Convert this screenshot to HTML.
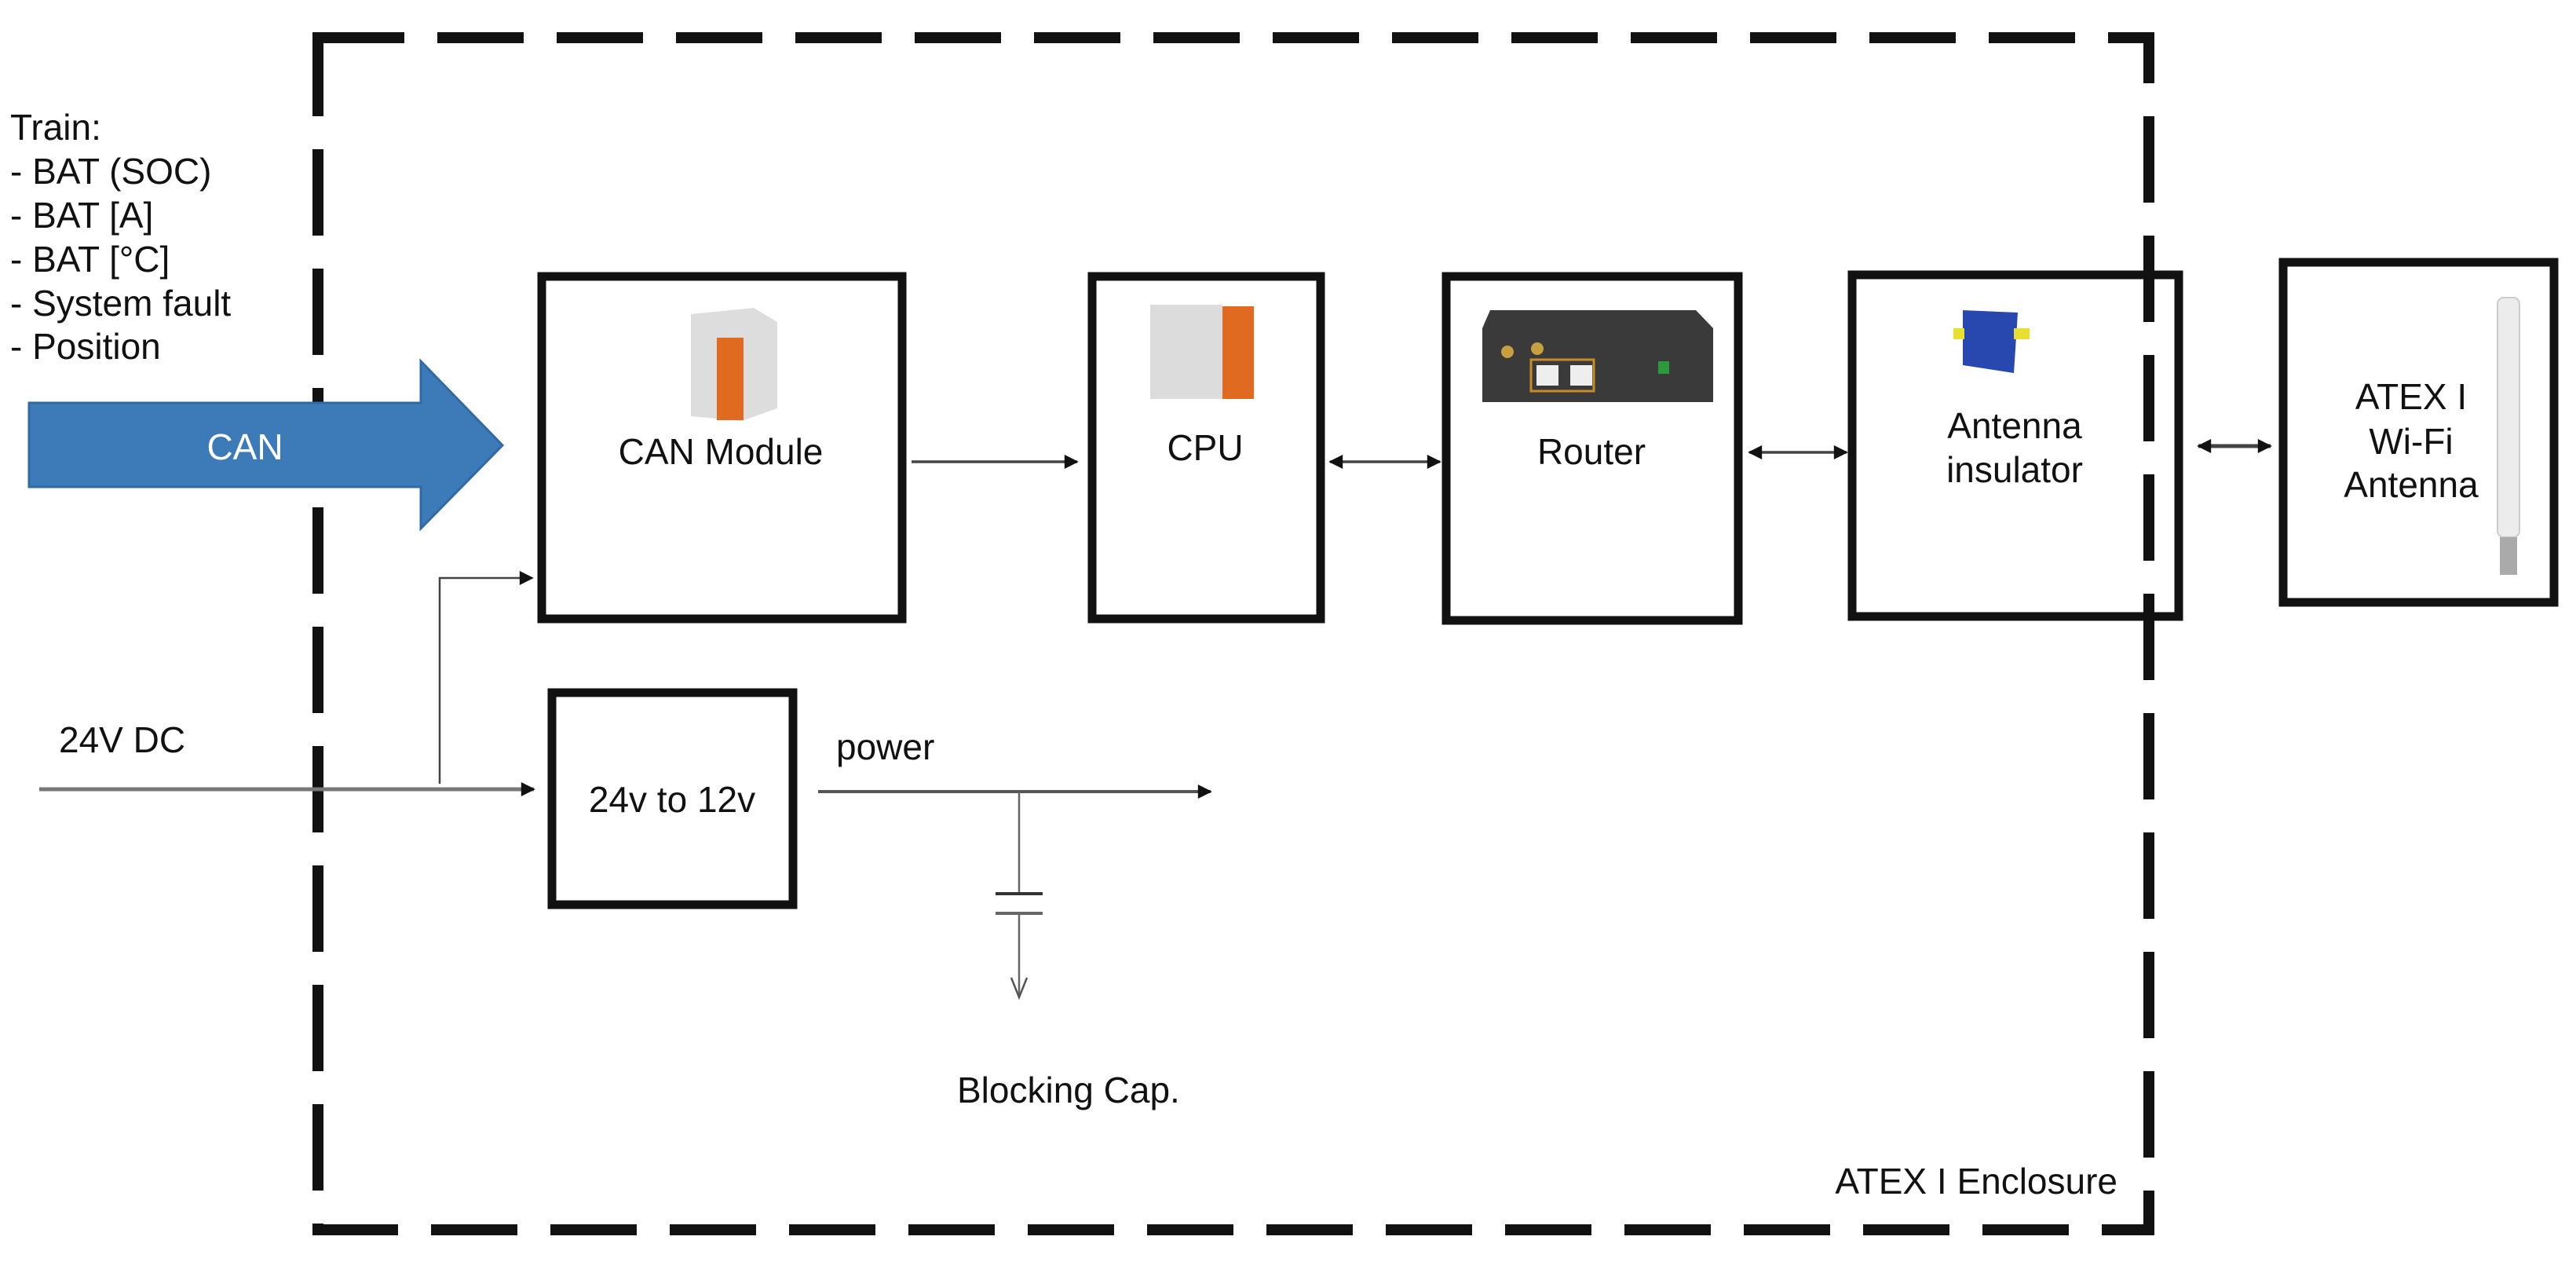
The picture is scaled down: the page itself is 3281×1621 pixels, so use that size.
<!DOCTYPE html>
<html><head><meta charset="utf-8"><style>
html,body{margin:0;padding:0;background:#fff;}
svg{display:block;}
text{font-family:"Liberation Sans",Arial,sans-serif;fill:#111;}
</style></head><body>
<svg width="3281" height="1621" viewBox="0 0 3281 1621" xmlns="http://www.w3.org/2000/svg">
<defs>
<marker id="ah" viewBox="0 0 10 10" refX="9" refY="5" markerWidth="20" markerHeight="18" orient="auto-start-reverse" markerUnits="userSpaceOnUse"><path d="M0,0 L10,5 L0,10 z" fill="#111"/></marker>
</defs>
<!-- enclosure -->
<path d="M405,48 H2737 V1566 H405 Z" fill="none" stroke="#111" stroke-width="14" stroke-dasharray="110 42"/>

<!-- left text -->
<g font-size="46">
<text x="13" y="178">Train:</text>
<text x="13" y="234">- BAT (SOC)</text>
<text x="13" y="290">- BAT [A]</text>
<text x="13" y="346">- BAT [°C]</text>
<text x="13" y="402">- System fault</text>
<text x="13" y="457">- Position</text>
<text x="75" y="958">24V DC</text>
<text x="1065" y="967">power</text>
<text x="1219" y="1404">Blocking Cap.</text>
<text x="2697" y="1520" text-anchor="end">ATEX I Enclosure</text>
</g>

<!-- CAN arrow -->
<path d="M37,513 H536 V460 L640,567 L536,673 V620 H37 Z" fill="#3d7ab8" stroke="#2f6aa3" stroke-width="3"/>
<text x="312" y="585" font-size="46" text-anchor="middle" style="fill:#fff">CAN</text>

<!-- boxes -->
<g fill="none" stroke="#111" stroke-width="11">
<rect x="690" y="352" width="459" height="436"/>
<rect x="1391" y="352" width="291" height="436"/>
<rect x="1842" y="352" width="372" height="438"/>
<rect x="2359" y="350" width="416" height="435"/>
<rect x="2908" y="334" width="345" height="433"/>
<rect x="703" y="882" width="307" height="270"/>
</g>

<!-- images (placeholders) -->
<g>
<path d="M880,400 L960,392 L990,410 L990,520 L945,536 L880,530 Z" fill="#ddd"/>
<rect x="913" y="430" width="34" height="105" fill="#e06a20"/>
<rect x="1465" y="388" width="92" height="120" fill="#dcdcdc"/>
<rect x="1557" y="390" width="40" height="118" fill="#e06a20"/>
<path d="M1898,395 H2160 L2182,418 V512 H1888 V418 Z" fill="#3a3a3a"/>
<rect x="1950" y="458" width="80" height="40" fill="none" stroke="#c98a2a" stroke-width="3"/>
<rect x="1957" y="465" width="28" height="26" fill="#eee"/>
<rect x="2000" y="465" width="28" height="26" fill="#eee"/>
<circle cx="1920" cy="448" r="8" fill="#c9a040"/><circle cx="1958" cy="444" r="8" fill="#c9a040"/>
<rect x="2112" y="460" width="14" height="16" fill="#2a9a3a"/>
<path d="M2500,395 L2570,398 L2565,475 L2500,465 Z" fill="#2848b0"/>
<rect x="2488" y="418" width="14" height="14" fill="#e8e030"/>
<rect x="2565" y="418" width="20" height="14" fill="#e8e030"/>
<rect x="3181" y="379" width="28" height="305" rx="8" fill="#ececec" stroke="#ccc" stroke-width="2"/>
<rect x="3184" y="684" width="22" height="48" fill="#aaa"/>
</g>

<!-- box labels -->
<g font-size="46" text-anchor="middle">
<text x="918" y="591">CAN Module</text>
<text x="1535" y="586">CPU</text>
<text x="2027" y="591">Router</text>
<text x="2566" y="558">Antenna</text>
<text x="2566" y="614">insulator</text>
<text x="3071" y="521">ATEX I</text>
<text x="3071" y="578">Wi-Fi</text>
<text x="3071" y="633">Antenna</text>
<text x="856" y="1034">24v to 12v</text>
</g>

<!-- connectors -->
<g stroke="#444" stroke-width="3.5" fill="none">
<line x1="1161" y1="588" x2="1372" y2="588" marker-end="url(#ah)"/>
<line x1="1694" y1="588" x2="1834" y2="588" marker-start="url(#ah)" marker-end="url(#ah)"/>
<line x1="2228" y1="576" x2="2352" y2="576" marker-start="url(#ah)" marker-end="url(#ah)"/>
<line x1="2800" y1="568" x2="2892" y2="568" stroke-width="5" marker-start="url(#ah)" marker-end="url(#ah)"/>
<line x1="50" y1="1005" x2="680" y2="1005" stroke="#777" stroke-width="5" marker-end="url(#ah)"/>
<polyline points="560,998 560,736 678,736" stroke-width="2.5" marker-end="url(#ah)"/>
<line x1="1042" y1="1008" x2="1542" y2="1008" stroke="#555" stroke-width="4" marker-end="url(#ah)"/>
<line x1="1298" y1="1008" x2="1298" y2="1138" stroke="#666" stroke-width="2.5"/>
<line x1="1268" y1="1138" x2="1328" y2="1138" stroke="#333" stroke-width="4"/>
<line x1="1268" y1="1163" x2="1328" y2="1163" stroke="#666" stroke-width="4"/>
<line x1="1298" y1="1163" x2="1298" y2="1270" stroke="#666" stroke-width="2.5"/>
<polyline points="1288,1245 1298,1270 1308,1245" stroke="#555" stroke-width="2.5"/>
</g>
</svg>
</body></html>
